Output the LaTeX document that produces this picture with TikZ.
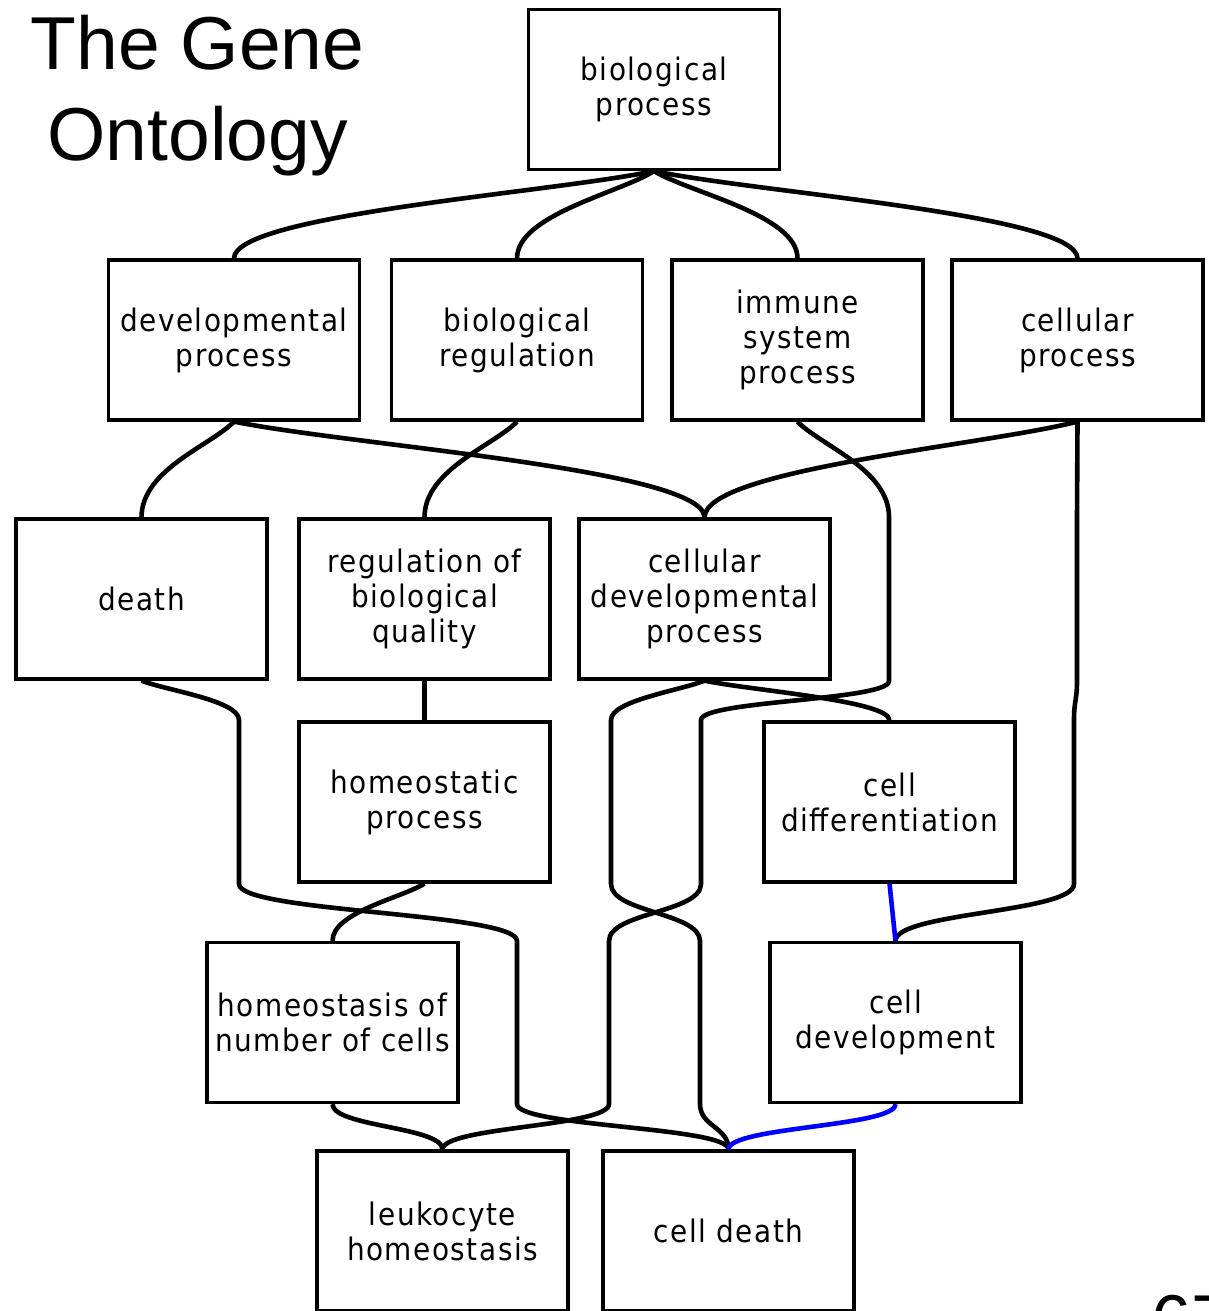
\documentclass[tikz,border=0pt]{standalone}
\usepackage{fontspec}
\newfontfamily\boxfont[LetterSpace=5]{DejaVu Sans Condensed}
\newfontfamily\titlefont{Liberation Sans}
\usetikzlibrary{calc}
\tikzset{
  term/.style={draw, line width=3.2pt, minimum width=251pt, minimum height=160pt,
    inner sep=0pt, align=center, font=\boxfont\fontsize{31}{35}\selectfont},
  link/.style={line width=4.6pt, line join=round},
  partof/.style={link, draw=blue},
  % edge leaving a term: straight out, bending down into the target
  spread/.style={to path={.. controls ($(\tikztostart)!0.25!(\tikztotarget)$)
    and ($(\tikztotarget)!0.5!(\tikztotarget |- \tikztostart)$) .. (\tikztotarget)}},
  % edge leaving a lane: vertical at both ends
  lane/.style={to path={.. controls ($(\tikztostart)!0.5!(\tikztostart |- \tikztotarget)$)
    and ($(\tikztotarget)!0.5!(\tikztotarget |- \tikztostart)$) .. (\tikztotarget)}},
}

\begin{document}
\begin{tikzpicture}[x=1pt,y=-1pt]
  \clip (0,0) rectangle (1208,1311);
  \fill[white] (0,0) rectangle (1208,1311);

  \node[font=\titlefont\fontsize{75}{90}\selectfont, align=center, anchor=base]
    (title) at (197.5,160) {The Gene\\Ontology};
  \node[font=\titlefont\fontsize{72}{90}\selectfont, anchor=base west]
    (page) at (1148,1345) {67};

  % terms
  \node[term] (bp) at (654,89.5) {biological\\process};
  \node[term] (dev) at (234,340) {developmental\\process};
  \node[term] (breg) at (517,340) {biological\\regulation};
  \node[term] (imm) at (797.5,340) {immune\\system\\process};
  \node[term] (cellp) at (1077.5,340) {cellular\\process};
  \node[term] (death) at (141.5,599) {death};
  \node[term] (rbq) at (424.5,599) {regulation of\\biological\\quality};
  \node[term] (cdp) at (704.5,599) {cellular\\developmental\\process};
  \node[term] (hp) at (424.5,802) {homeostatic\\process};
  \node[term] (cdiff) at (889.5,802) {cell\\differentiation};
  \node[term] (hnc) at (332.5,1022.5) {homeostasis of\\number of cells};
  \node[term] (cdev) at (895.5,1022.5) {cell\\development};
  \node[term] (lh) at (442.5,1231) {leukocyte\\homeostasis};
  \node[term] (cd) at (728.5,1231) {cell death};

  % lanes of the long edges
  \coordinate (i2t) at (889,517);  \coordinate (i2b) at (889,681);
  \coordinate (i3t) at (701,720);  \coordinate (i3b) at (701,884);
  \coordinate (i4t) at (609,941);  \coordinate (i4b) at (609,1104);
  \coordinate (c2t) at (1077,517); \coordinate (c2b) at (1077,681);
  \coordinate (c3t) at (1074,720); \coordinate (c3b) at (1074,884);
  \coordinate (d3t) at (239,720);  \coordinate (d3b) at (239,884);
  \coordinate (d4t) at (517,941);  \coordinate (d4b) at (517,1104);
  \coordinate (p3t) at (611,720);  \coordinate (p3b) at (611,884);
  \coordinate (p4t) at (700,941);  \coordinate (p4b) at (700,1104);

  \draw[link] (bp.south) to[spread] (dev.north);
  \draw[link] (bp.south) to[spread] (breg.north);
  \draw[link] (bp.south) to[spread] (imm.north);
  \draw[link] (bp.south) to[spread] (cellp.north);
  \draw[link] (dev.south) to[spread] (death.north);
  \draw[link] (dev.south) to[spread] (cdp.north);
  \draw[link] (breg.south) to[spread] (rbq.north);
  \draw[link] (cellp.south) to[spread] (cdp.north);
  \draw[link] (rbq.south) -- (hp.north);
  \draw[link] (cdp.south) to[spread] (cdiff.north);
  \draw[link] (hp.south) to[spread] (hnc.north);
  \draw[link] (hnc.south) to[lane] (lh.north);
  \draw[link] (imm.south) to[spread] (i2t) -- (i2b) to[lane] (i3t) -- (i3b)
    to[lane] (i4t) -- (i4b) to[lane] (lh.north);
  \draw[link] (cellp.south) to[lane] (c2t) -- (c2b) to[lane] (c3t) -- (c3b)
    to[lane] (cdev.north);
  \draw[link] (death.south) to[spread] (d3t) -- (d3b) to[lane] (d4t) -- (d4b)
    to[lane] (cd.north);
  \draw[link] (cdp.south) to[spread] (p3t) -- (p3b) to[lane] (p4t) -- (p4b)
    to[lane] (cd.north);
  \draw[partof] (cdiff.south) -- (cdev.north);
  \draw[partof] (cdev.south) to[lane] (cd.north);
\end{tikzpicture}
\end{document}
